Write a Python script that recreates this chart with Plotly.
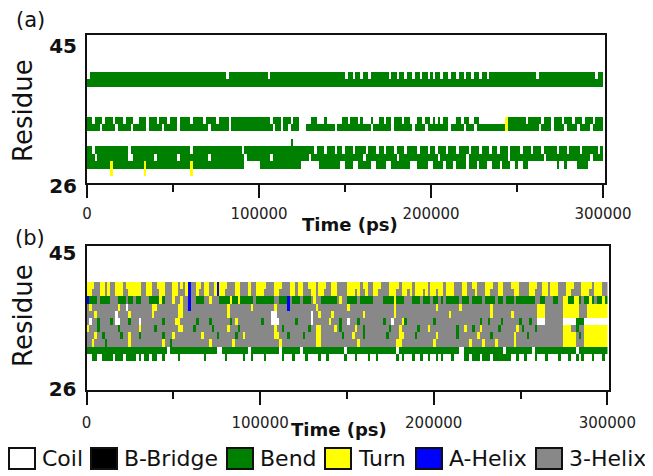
import re
import plotly.graph_objects as go

# DSSP secondary structure vs time, two simulations (a) and (b)
# one state letter per 1500 ps frame; ".", B, S, T, H, G = coil, bridge, bend, turn, a-helix, 3-helix
# a letter may carry a repeat count (S41 = 41 frames of bend)
N_FRAMES = 200
FRAME_PS = 1500

STATE_NAMES = ["Coil", "B-Bridge", "Bend", "Turn", "A-Helix", "3-Helix"]
STATE_CODES = [".", "B", "S", "T", "H", "G"]
STATE_COLORS = ["#ffffff", "#000000", "#008000", "#ffff00", "#0000ff", "#888888"]

RESIDUES_A = [40, 39, 38, 37, 36, 35, 34, 33, 32, 31, 30, 29, 28, 27]
DSSP_A = [
    ". S53 . S15 . S29 . S2 . S2 . S2 . S7 . S2 . S2 . S2 . S2 . S2 . S1 "
    ". S2 . S2 . S2 . S2 . S2 . S2 . S2 . S18 . S22 . S2",
    "S200",
    "",
    "",
    "",
    "",
    "S2 . S3 . S3 . S3 . S3 .2 S3 . S3 . S3 . S3 . S4 . S4 . S4 . S4 . S15 . S3 . S3 . S2 .5 "
    "S2 .3 S1 .6 S2 . S3 . S1 .3 S1 .2 S2 . S2 . S3 . S2 .3 S2 . S2 . S1 . S1 . S2 .3 S2 . S2 .2 "
    "S2 .10 T1 S7 . S5 . S3 . S3 . S3 . S3 . S3 . S3",
    "S5 . S5 . S5 . S5 . S5 . S5 . S11 . S7 . S16 . S2 . S2 . S3 .3 S11 . S13 . S7 . S7 . S4 "
    ". S8 . S5 . S3 . S11 T1 S12 . S4 . S4 . S4 . S4 . S4",
    "",
    ".79 S1",
    "S2 . S13 . S23 . S19 . S27 . S3 . S3 . S2 . S3 . S4 . S3 . S2 . S3 . S3 . S4 . S3 . S2 "
    ". S3 . S3 . S4 . S3 . S3 . S2 . S3 . S4 . S3 . S3 . S5 . S3 . S4 . S6 . S4 . S3 . S5",
    "S3 . S12 .2 S8 . S8 . S11 . S13 . S9 . S14 . S20 . S12 . S15 . S10 . S15 . S13 . S17 "
    ". S13 . S12",
    "S9 T1 S12 T1 S17 T1 S20 .6 S16 .7 S8 .2 S3 .2 S5 .2 S4 .2 S7 .3 S4 .2 S4 . S3 . S4 "
    ". S3 . S3 .2 S3 . S3 .2 S1 .2 S2 .11 S1 .2 S1 .4 S4 .6",
    ".9 T1 .12 T1 .17 T1",
]

RESIDUES_B = [40, 39, 38, 37, 36, 35, 34, 33, 32, 31, 30]
DSSP_B = [
    "TTTGGTTGTGGTTTGTTTTTTGGTTGGTTTGGGTTGTGTHGGTTGTTGGT"
    "HTTTGGGTTGGGTGGTTTTGGGTTTGGGTTGTTGGTTTGTTTGGTTGGGG"
    "TTTTTGTTGGTTTGGGTTTTGTTTTGTTTTTGTTTTTGTTTGGGTTGGTT"
    "GGGTTTGGTTGGGTTTGGGGTTTGGTTGTTTGGGTTTGGGTTTTGTTTGG",
    "TTGGGTTGTGGTTTGGTTTTTGGTTGGGTTGGGTTGGGTHGGTGGTTGGT"
    "HTTGGGGTTGGGTGGTTTGGGGTTGGGGTTGTTGGGTTGTTGGGTTGGGG"
    "TTTGTGGTGGTTGGGGTTTGGTTGTGTTTGTGTTGTTGTTTGGGTTGGGT"
    "GGGTTGGGTTGGGGTTGGGGTTGGGTTGTTTGGGTTGGGGTTTGGTTTGG",
    "HSSSGSSSSGGGSSSGSSGSSGGGSSSSTSGGGTGGTGGHGGSSSGGTGG"
    "GSSSSTSSTSSSSSGSSSSSSSGGSSSHGSSSGSSSGTGGSSSSSSGTGG"
    "SSSSGSSSSSGGGGSSSSTSSSGGGSSSGSSSGSSGSGSSSSSGSSSGSS"
    "SSGSSSSGSSGSSSGSSSSSSSGGSSGGGSSGGTTSSTTSGSSTSGSSTS",
    "GTGGGGGGGGGGTGG.GGGGGGGGGTTGGGGGGGGTTGGHGGGGGGGGGG"
    "GGGGTGGGGGGGGTGGGGGGGGTGGGGHGGGGGGGGGGTGGGGGGGGGGG"
    "TGGGGGGGGGGGGGGGGGTGGGGGGGGGGGGGGGTGGGGGGGGTGGGGGG"
    "GGGGGTGGGGGGGGGGGGGGGGGTTTGGGGGGGTTTTTTGGGTTTTTTTT",
    "GGGTGGGGGGG.GGGGTGGGGGGGGTGGGGGGGGGTTGGGGGGGGGGGGG"
    "GGGGTGGGGGGGGGGGGGGGG..GGGGGGGGGGGGG.GGTGGGGTGGGGG"
    "GGGGGGTGGGGGGGGGGGTGGGGGGGGGGGGGGGGGGGGTGGGGGGGGGG"
    "GGGGGTGGGGGGGTGGGGGGGGGTTTGGGGGGGTTTTTTGGGTTTTTTTT",
    "G.GGSGGGGSG..GGGSGGG.GGGGGGGGSGGGGTTGGGGGGSGGGGSGG"
    "GGGGGSGTGGGGGGGGGSGGG...GGGGGGSGGGGG.GGGGGGTGGGSGG"
    ".GGGSGGGGGGGGGSGG.GGGTSGGGGGGGGGGSGGGGGGGGGGGGGGGG"
    "GSGGSGGGGSGGGGGGSGGGSGG...GGGGGGG.....SSS.........",
    "TGGGSGGGGGGGSGGGGGGGTGGGGGSGGGGGGGGTTGGGGSGGGGGGSG"
    "GGGGTGGGSGGGGGGGGGGGGGTGGSGGGGGGGGGSGGTTGGGGGTGSGG"
    "GGGTGGSGGGGGGGGGSGGGTGGGGGGSGGGTGGGGGGGGGGSGGTGGSG"
    "GTGGGGGGSGGGGGGTGSGGGGSGGGGGGGGGGTTTGGSGGTTTTTTTTT",
    "GGGTGGSGGGGGGSGGTGGGSGGGGGGGGSGGGTGGGGGGGGGGTGGGGG"
    "SGGGGGGSGGTGGGGGGGGGGGTTGGGSGGGGGSGGGGTTGGGGGGGGSG"
    "GGTGGGSGGGGGGGGSGGGGTTGGGGSGGGGGGGTGGGGGGGSGGGGGGG"
    "TGGGGSGGGGGGGGTGGGGSGGGGGGGGGGGGGTTTTTGSGTTTTTTTTT",
    "GGTGGGGSGGGGGGGGTGGGGGGGGGGGGTGGSGGGGGGGGGGGGGGTGG"
    "GGGGGGTGGGGGGGGGGGGGGGGGTGGGGGGGGGGGGGTTGGGGGGGGGG"
    "GGGGTGGGGGGGGGGGGGGTTGGGGGGGGGGGGTGGGGGGGGGGGGGTGG"
    "GGTGGGGTGGGGGGTGGGGGGGGGGGGGGGGGGTTTTTGGGTTTTTTTTT",
    "S31 . S18 .2 S10 . S11 . S7 . S16 . S19 . S23 .2 S15 . S10 . S16 . S11",
    "..SS..SSSS.SSS.SSSS.S.SS.SS..S.....S.........S...."
    "...S......S..S....S......S...S....S....S..S......S"
    "...S....S..S.......S.S...S..S..S..S.S...S....SS.SS"
    "S.SSS.SSSSSSS..S..S...S...S....S...S..S.S...S...S.",
]


def expand(row):
    out = []
    for ch, n in re.findall(r"([.BSTHG])(\d*)", row):
        out += [STATE_CODES.index(ch)] * (int(n) if n else 1)
    return (out + [0] * N_FRAMES)[:N_FRAMES]


times = [(i + 0.5) * FRAME_PS for i in range(N_FRAMES)]

colorscale = []
for i, c in enumerate(STATE_COLORS):
    colorscale += [[i / len(STATE_COLORS), c], [(i + 1) / len(STATE_COLORS), c]]

FONT = "DejaVu Sans"
W, H = 653, 476
PAGE_MARGIN = 8  # the html body adds 8px around the plot div


def fx(p):
    return (p - PAGE_MARGIN) / W


def fy(p):
    return 1 - (p - PAGE_MARGIN) / H


fig = go.Figure()
for res, rows, ax in [(RESIDUES_A, DSSP_A, ""), (RESIDUES_B, DSSP_B, "2")]:
    fig.add_trace(go.Heatmap(
        x=times, y=res, z=[expand(r) for r in rows],
        xaxis="x" + ax, yaxis="y" + ax,
        colorscale=colorscale, zmin=-0.5, zmax=len(STATE_COLORS) - 0.5,
        showscale=False, hoverinfo="skip",
    ))

xcommon = dict(
    tickmode="linear", tick0=0, dtick=100000, tickformat="d", automargin=False,
    ticks="outside", ticklen=13, tickwidth=2, tickcolor="#111",
    minor=dict(dtick=50000, ticks="outside", ticklen=7, tickwidth=2, tickcolor="#111"),
    showline=True, linewidth=2, linecolor="#111", mirror=True,
    showgrid=False, zeroline=False,
    tickfont=dict(family=FONT, size=15, color="#222"),
)
ycommon = dict(
    range=[25.5, 45.5], tickvals=[26, 45], ticks="", automargin=False,
    showline=True, linewidth=2, linecolor="#111", mirror=True,
    showgrid=False, zeroline=False, ticklabelstandoff=4,
    tickfont=dict(family=FONT, size=20, color="#111", weight="bold"),
)

fig.update_layout(
    width=W, height=H, margin=dict(l=0, r=0, t=0, b=0, autoexpand=False),
    paper_bgcolor="white", plot_bgcolor="white", showlegend=False,
    xaxis=dict(xcommon, domain=[fx(87), fx(605)], range=[0, 301160], anchor="y",
               ticklabelstandoff=3),
    yaxis=dict(ycommon, domain=[fy(183), fy(35)], anchor="x", ticklabelshift=7),
    xaxis2=dict(xcommon, domain=[fx(86.5), fx(609)], range=[0, 300980], anchor="y2",
                ticklabelstandoff=5),
    yaxis2=dict(ycommon, domain=[fy(390), fy(246)], anchor="x2", ticklabelshift=3),
)

notes = [
    ("(a)", 30, 20, 21, "normal", 0),
    ("(b)", 30, 238, 21, "normal", 0),
    ("Residue", 23, 111, 26, "normal", -90),
    ("Residue", 23, 316, 26, "normal", -90),
    ("Time (ps)", 350, 225, 18, "bold", 0),
    ("Time (ps)", 339, 429, 18, "bold", 0),
]
for text, x, y, size, weight, angle in notes:
    fig.add_annotation(x=fx(x), y=fy(y), xref="paper", yref="paper", text=text,
                       showarrow=False, textangle=angle, xanchor="center", yanchor="middle",
                       font=dict(family=FONT, size=size, color="#111", weight=weight))

# legend strip along the bottom
legend_left = [9, 91, 227, 325, 416, 536]
for name, color, left in zip(STATE_NAMES, STATE_COLORS, legend_left):
    fig.add_shape(type="rect", xref="paper", yref="paper",
                  x0=fx(left), y0=fy(469), x1=fx(left + 26), y1=fy(448),
                  fillcolor=color, line=dict(color="#111", width=2))
    fig.add_annotation(x=fx(left + 31), y=fy(458), xref="paper", yref="paper", text=name,
                       showarrow=False, xanchor="left", yanchor="middle",
                       font=dict(family=FONT, size=22, color="#111"))

fig.write_html("out.html")
